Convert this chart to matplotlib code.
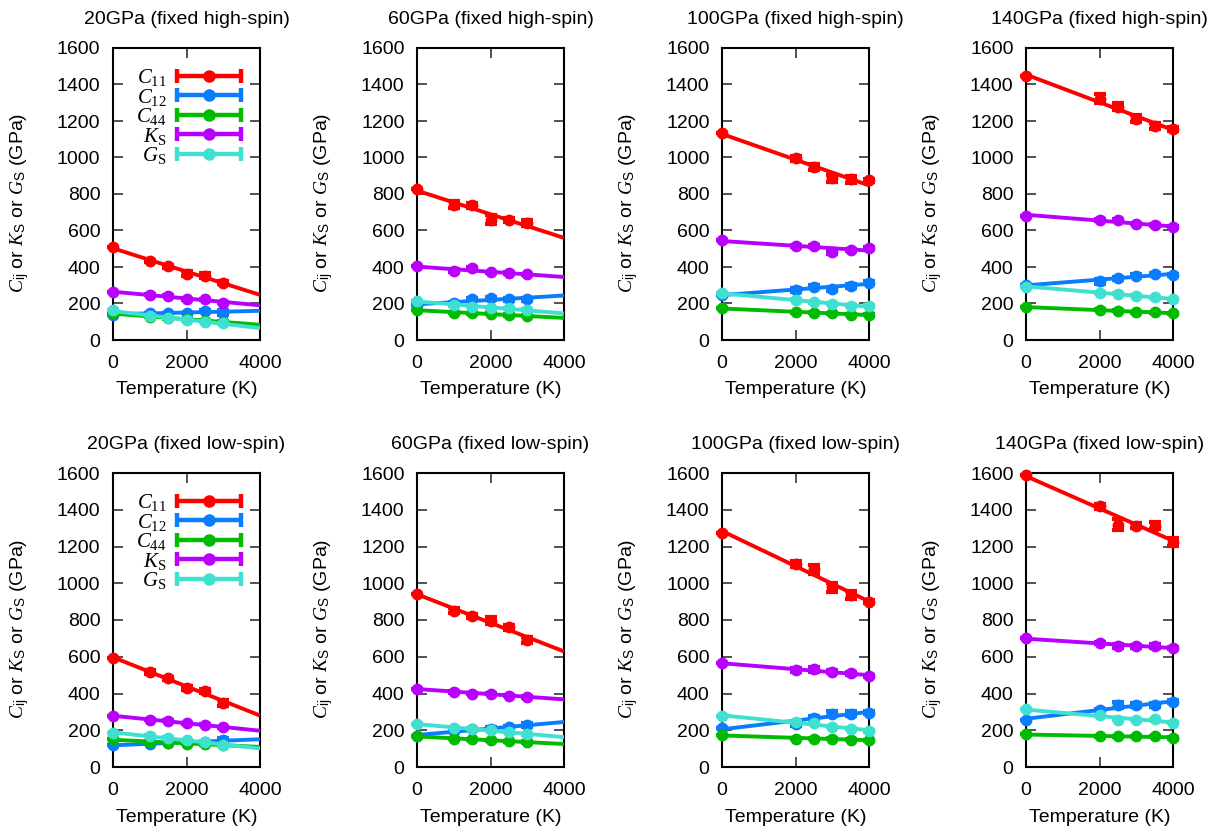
import numpy as np
import matplotlib
matplotlib.use("Agg")
import matplotlib.pyplot as plt
from matplotlib.lines import Line2D
from matplotlib.legend_handler import HandlerBase

plt.rcParams['font.family'] = ['Liberation Sans', 'DejaVu Sans']
plt.rcParams['mathtext.fontset'] = 'custom'
plt.rcParams['mathtext.rm'] = 'Liberation Sans'
plt.rcParams['mathtext.it'] = 'Liberation Serif:italic'
plt.rcParams['mathtext.sf'] = 'Liberation Serif'

# ---------------- data ----------------
titles = ["20GPa (fixed high-spin)", "60GPa (fixed high-spin)",
          "100GPa (fixed high-spin)", "140GPa (fixed high-spin)",
          "20GPa (fixed low-spin)", "60GPa (fixed low-spin)",
          "100GPa (fixed low-spin)", "140GPa (fixed low-spin)"]

T_low_p = [0, 1000, 1500, 2000, 2500, 3000]     # 20, 60 GPa
T_high_p = [0, 2000, 2500, 3000, 3500, 4000]    # 100, 140 GPa
panel_T = [T_low_p, T_low_p, T_high_p, T_high_p,
           T_low_p, T_low_p, T_high_p, T_high_p]

C11 = [[510, 434, 403, 363, 352, 315],
       [828, 742, 738, 660, 656, 640],
       [1136, 995, 947, 885, 880, 874],
       [1444, 1323, 1279, 1213, 1173, 1155],
       [595, 518, 482, 431, 415, 349],
       [942, 851, 822, 797, 760, 691],
       [1273, 1104, 1077, 979, 937, 900],
       [1591, 1418, 1318, 1313, 1313, 1225]]
C11_err = [[0, 5, 8, 15, 15, 10],
           [0, 18, 12, 25, 12, 15],
           [0, 15, 15, 18, 20, 10],
           [0, 25, 18, 20, 15, 10],
           [0, 10, 10, 12, 12, 15],
           [0, 15, 12, 20, 15, 18],
           [0, 15, 25, 25, 20, 10],
           [0, 15, 30, 15, 20, 20]]

C12 = [[137, 150, 150, 150, 157, 150],
       [192, 201, 224, 229, 224, 224],
       [247, 275, 293, 280, 297, 315],
       [302, 321, 339, 352, 363, 356],
       [118, 127, 133, 131, 136, 146],
       [170, 196, 205, 209, 215, 227],
       [210, 233, 267, 291, 291, 295],
       [258, 309, 337, 337, 337, 355]]
C12_err = [[0, 0, 0, 0, 5, 15],
           [0, 5, 8, 8, 8, 8],
           [0, 12, 10, 12, 12, 8],
           [0, 15, 8, 8, 5, 5],
           [0, 0, 0, 0, 5, 10],
           [0, 5, 5, 10, 10, 12],
           [0, 12, 10, 12, 12, 8],
           [0, 5, 15, 10, 12, 8]]

C44 = [[147, 128, 119, 114, 106, 101],
       [165, 150, 147, 143, 137, 132],
       [174, 152, 150, 147, 139, 139],
       [180, 165, 161, 152, 152, 147],
       [152, 136, 131, 127, 124, 122],
       [167, 155, 151, 146, 140, 136],
       [173, 155, 155, 155, 149, 146],
       [177, 167, 167, 167, 167, 158]]
C44_err = [[0, 3, 3, 3, 3, 3]] * 8

KS = [[262, 247, 242, 224, 222, 205],
      [403, 379, 394, 370, 366, 359],
      [546, 517, 513, 482, 495, 504],
      [682, 656, 656, 638, 628, 617],
      [278, 258, 251, 237, 231, 215],
      [426, 409, 400, 400, 389, 382],
      [564, 527, 531, 518, 509, 495],
      [700, 673, 660, 658, 660, 646]]
KS_err = [[0, 3, 3, 3, 3, 3],
          [0, 8, 5, 5, 5, 5],
          [0, 5, 5, 10, 5, 5],
          [0, 5, 5, 5, 5, 5],
          [0, 3, 3, 3, 3, 3],
          [0, 5, 5, 5, 5, 5],
          [0, 10, 12, 8, 8, 5],
          [0, 5, 10, 8, 10, 5]]

GS = [[162, 132, 122, 108, 101, 92],
      [216, 192, 183, 174, 174, 165],
      [257, 220, 207, 198, 188, 187],
      [293, 260, 253, 242, 233, 224],
      [185, 169, 158, 146, 136, 118],
      [233, 213, 209, 200, 191, 177],
      [277, 246, 237, 218, 209, 196],
      [313, 282, 258, 258, 260, 240]]
GS_err = [[0, 3, 3, 3, 3, 3]] * 8

series_names = [r'$C_{\mathsf{11}}$', r'$C_{\mathsf{12}}$', r'$C_{\mathsf{44}}$',
                r'$K_{\mathsf{S}}$', r'$G_{\mathsf{S}}$']
series_vals = [C11, C12, C44, KS, GS]
series_errs = [C11_err, C12_err, C44_err, KS_err, GS_err]
colors = ['#ff0000', '#0a7dff', '#00bb00', '#b900ff', '#3fe0d0']

yticks = [0, 200, 400, 600, 800, 1000, 1200, 1400, 1600]
xticks = [0, 2000, 4000]

# ---------------- legend handler ----------------
class ErrLineHandler(HandlerBase):
    def create_artists(self, legend, orig_handle, xdescent, ydescent,
                       width, height, fontsize, trans):
        c = orig_handle.get_color()
        y = height / 2.0 - ydescent
        x0, x1 = -xdescent, -xdescent + width
        line = Line2D([x0, x1], [y, y], color=c, lw=3.2, transform=trans,
                      solid_capstyle='butt')
        caps = Line2D([x0 + 1.2, x1 - 1.2], [y, y], ls='none', marker='|', ms=10,
                      mew=3.2, color=c, transform=trans)
        dot = Line2D([(x0 + x1) / 2.0], [y], marker='o', ms=8, color=c,
                     ls='none', transform=trans)
        return [line, caps, dot]

# ---------------- figure ----------------
W, H = 1220, 830
fig = plt.figure(figsize=(W / 100, H / 100), dpi=100)

col_left = [113, 417, 722, 1026]
axw = 147
rows = [(48, 340), (473, 767)]

for p in range(8):
    r, c = divmod(p, 4)
    top, bot = rows[r]
    ax = fig.add_axes([col_left[c] / W, 1 - bot / H, axw / W, (bot - top) / H])
    T = np.array(panel_T[p], dtype=float)
    ax.set_xlim(0, 4000)
    ax.set_ylim(0, 1600)
    xl = np.array(ax.get_xlim())
    handles = []
    for s in range(5):
        v = np.array(series_vals[s][p], dtype=float)
        e = np.array(series_errs[s][p], dtype=float)
        col = colors[s]
        ax.errorbar(T, v, yerr=e, fmt='o', color=col, ms=7.5, elinewidth=3.0,
                    capsize=4.3, capthick=3.0, clip_on=False, zorder=3 + s)
        k, b = np.polyfit(T, v, 1)
        ax.plot(xl, k * xl + b, color=col, lw=2.8, zorder=3 + s,
                solid_capstyle='butt')
        handles.append(Line2D([], [], color=col))
    ax.set_xticks(xticks)
    ax.set_yticks(yticks)
    ax.tick_params(direction='in', length=7, width=1.3, color='#444444',
                   top=True, right=True, labelsize=14)
    ax.tick_params(axis='y', pad=9)
    ax.tick_params(axis='x', pad=11)
    for sp in ax.spines.values():
        sp.set_linewidth(1.5)
    ax.set_xlabel('Temperature (K)', fontsize=14)
    ax.xaxis.set_label_coords(0.5, -0.142)
    ax.set_ylabel(r'$C_{\mathrm{ij}}$ or $K_{\mathrm{S}}$ or $G_{\mathrm{S}}$ (GPa)',
                  fontsize=14)
    ax.yaxis.set_label_coords(-0.56, 0.47)
    ax.text(0.5, 1 + 29 / (bot - top), titles[p], transform=ax.transAxes,
            ha='center', va='center', fontsize=14)
    if c == 0:
        ax.legend(handles, series_names, handler_map={Line2D: ErrLineHandler()},
                  loc='upper right', bbox_to_anchor=(0.98, 0.985),
                  frameon=False, markerfirst=False, fontsize=15,
                  handlelength=3.2, handletextpad=0.45, labelspacing=-0.07,
                  borderpad=0.2)

fig.savefig('out.png', dpi=100)
